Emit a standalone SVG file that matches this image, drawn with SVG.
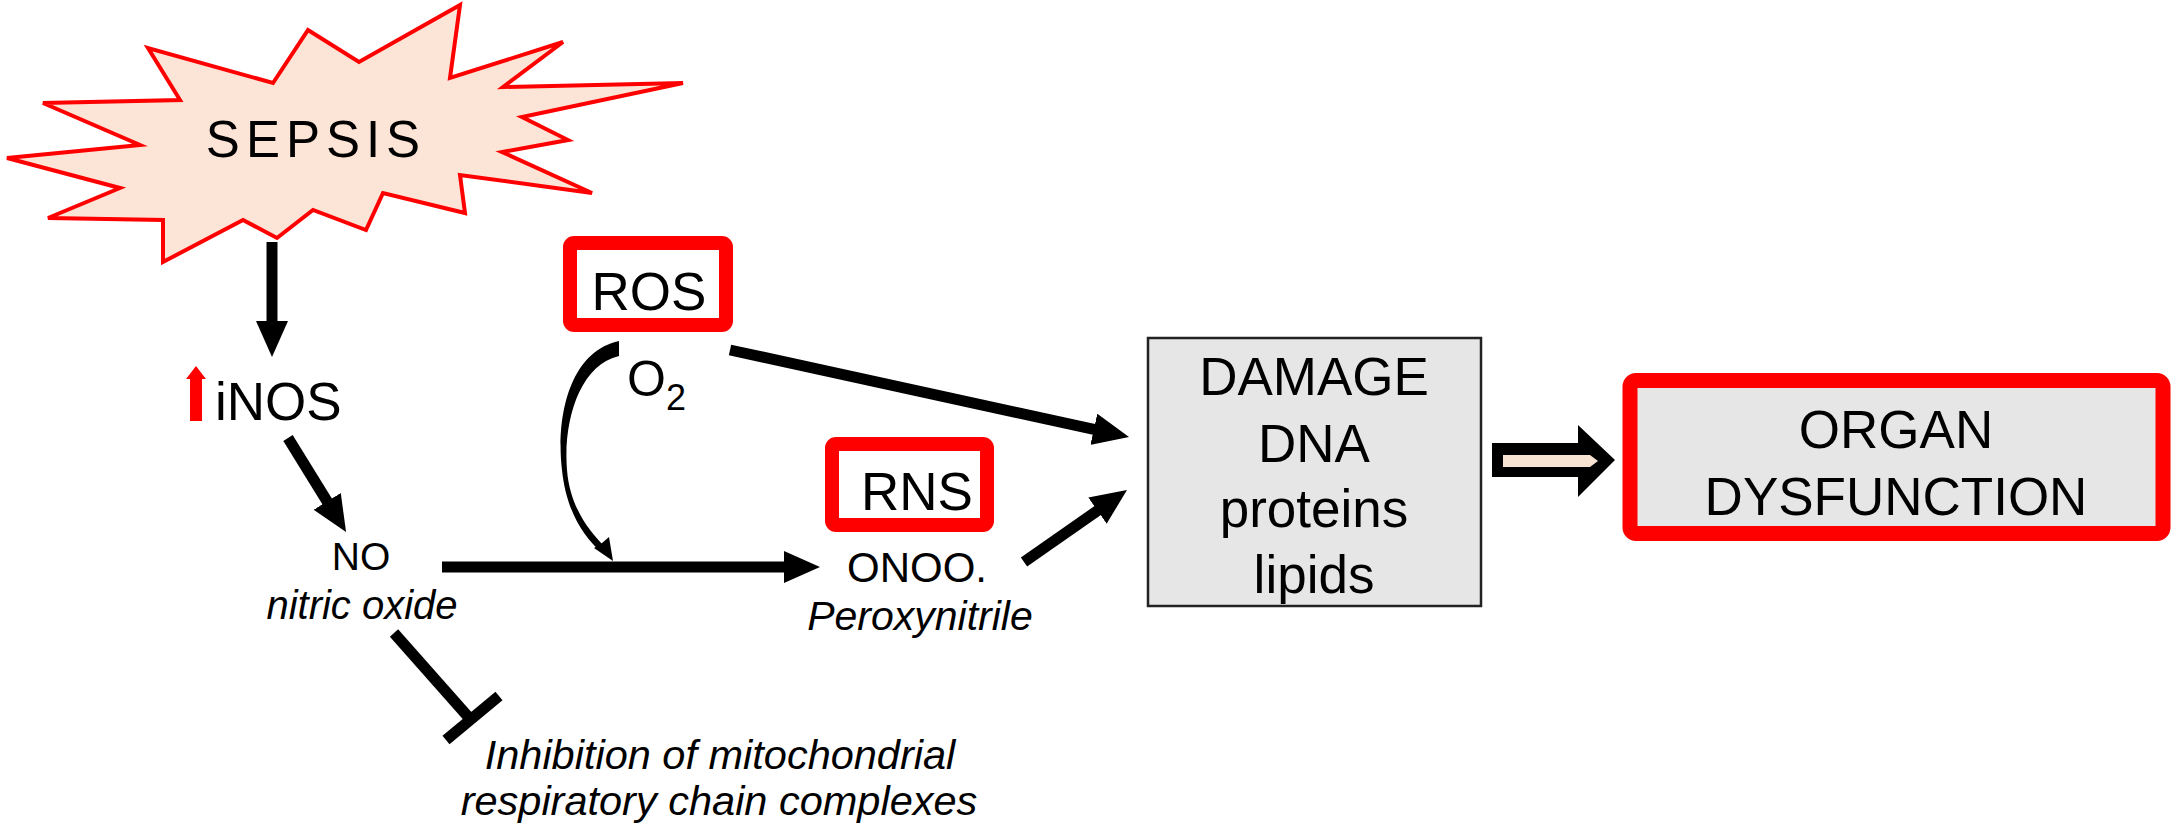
<svg xmlns="http://www.w3.org/2000/svg" width="2175" height="827" viewBox="0 0 2175 827">
<style>
.t{font-family:"Liberation Sans",Arial,sans-serif;fill:#000}
.i{font-style:italic}
.c{text-anchor:middle}
.ln{stroke:#000;stroke-width:11;fill:none}
.redbox{fill:#fff;stroke:#ff0000;stroke-width:14}
</style>
<defs>
<marker id="ah" markerUnits="userSpaceOnUse" markerWidth="36" markerHeight="32" refX="6" refY="16" orient="auto" viewBox="0 0 36 32">
<path d="M0,0 L36,16 L0,32 z" fill="#000"/>
</marker>
</defs>
<rect width="2175" height="827" fill="#fff"/>
<g id="sepsis">
<polygon points="148,48 180,100 43,103 140,145 7,158 120,188 48,218 163,220 163,262 243,220 277,238 313,210 366,230 383,193 465,213 460,175 592,193 502,152 568,140 522,117 683,83 503,87 563,42 450,78 460,5 359,62 308,30 273,83" fill="#fce4d6" stroke="#ff0000" stroke-width="4" stroke-linejoin="miter"/>
<text class="t c" x="316" y="157" font-size="51" letter-spacing="6">SEPSIS</text>
</g>
<g id="inos">
<polygon points="196,366 206,379 202,379 202,421 190,421 190,379 186,379" fill="#ff0000"/>
<text class="t" x="215" y="420" font-size="53">iNOS</text>
</g>
<g id="no">
<text class="t c" x="361" y="570" font-size="39">NO</text>
<text class="t i c" x="362" y="619" font-size="40">nitric oxide</text>
</g>
<g id="ros">
<rect class="redbox" x="570" y="243" width="156" height="82" rx="4"/>
<text class="t c" x="649" y="310" font-size="53">ROS</text>
</g>
<g id="o2">
<text class="t" x="627" y="396" font-size="50">O<tspan font-size="36" dy="14">2</tspan></text>
</g>
<g id="rns">
<rect class="redbox" x="832" y="444" width="155" height="81" rx="4"/>
<text class="t c" x="917" y="510" font-size="53">RNS</text>
</g>
<g id="onoo">
<text class="t c" x="917" y="582" font-size="42">ONOO.</text>
<text class="t i c" x="920" y="630" font-size="41">Peroxynitrile</text>
</g>
<g id="damage">
<rect x="1148" y="338" width="333" height="268" fill="#e6e6e6" stroke="#222" stroke-width="2.5"/>
<text class="t c" x="1314" y="395" font-size="53">DAMAGE</text>
<text class="t c" x="1314" y="462" font-size="53">DNA</text>
<text class="t c" x="1314" y="527" font-size="53">proteins</text>
<text class="t c" x="1314" y="593" font-size="53">lipids</text>
</g>
<g id="organ">
<rect x="1630" y="380.5" width="533" height="153" rx="6" fill="#e6e6e6" stroke="#ff0000" stroke-width="15"/>
<text class="t c" x="1896" y="448" font-size="53">ORGAN</text>
<text class="t c" x="1896" y="515" font-size="53">DYSFUNCTION</text>
</g>
<g id="inhibition">
<text class="t i c" x="720" y="769" font-size="41.5">Inhibition of mitochondrial</text>
<text class="t i c" x="719" y="815" font-size="41.5">respiratory chain complexes</text>
</g>
<g id="connectors">
<line class="ln" x1="272" y1="242" x2="272" y2="327" marker-end="url(#ah)"/>
<line class="ln" x1="288" y1="438" x2="330.3" y2="506.5" marker-end="url(#ah)"/>
<line class="ln" x1="442" y1="567" x2="790" y2="567" marker-end="url(#ah)"/>
<line class="ln" x1="730" y1="350" x2="1099.7" y2="430.6" marker-end="url(#ah)"/>
<line class="ln" x1="1024" y1="562" x2="1102.4" y2="507.2" marker-end="url(#ah)"/>
<path d="M619,341 C568,352 556,420 562,470 C566,510 583,536 601,552 L606,548 C590,532 570,508 567,470 C563,420 580,365 619,356 Z" fill="#000"/>
<polygon points="613,561 594,548 602,543 609,537" fill="#000"/>
<line class="ln" x1="394" y1="633" x2="471" y2="720"/>
<line class="ln" x1="446" y1="740" x2="499" y2="696"/>
<polygon points="1492,443 1578,443 1578,425 1615,460 1578,497 1578,477 1492,477" fill="#000"/>
<polygon points="1503,455 1590,455 1598,461 1590,467 1503,467" fill="#f8e3d3"/>
</g>
</svg>
